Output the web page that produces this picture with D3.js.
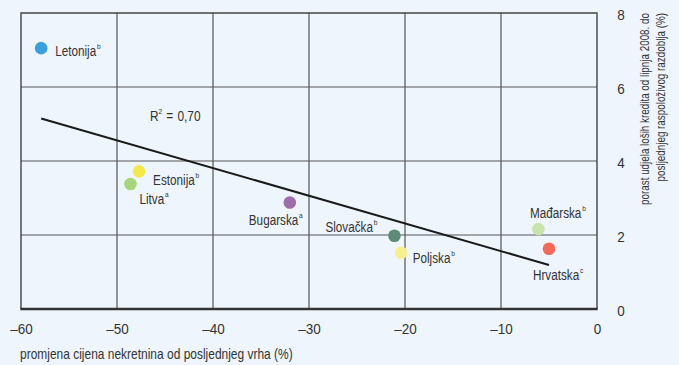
<!DOCTYPE html>
<html><head><meta charset="utf-8">
<script src="https://cdn.jsdelivr.net/npm/d3@7"></script>
<style>
html,body{margin:0;padding:0;background:#eef5fc;}
svg{display:block;font-family:"Liberation Sans",Arial,sans-serif;}
</style></head>
<body>
<svg id="chart" width="679" height="365"></svg>
<script>
// ---- data ----
const countries = ["Letonija","Estonija","Litva","Bugarska","Slovačka","Poljska","Mađarska","Hrvatska"];
const notes     = ["b","b","a","a","b","b","b","c"];
const priceChange = [-57.9,-47.7,-48.6,-32.0,-21.1,-20.4,-6.1,-5.0];
const nplIncrease = [7.05,3.72,3.38,2.88,1.98,1.52,2.16,1.63];
const colors = ["#3aa0dc","#f4e84a","#a6d57c","#9c6eae","#5f8a77","#f6f08e","#c9e3ac","#f3695a"];
const trendX = [-57.9,-5.0];
const trendY = [5.15,1.19];
const xTicks = [-60,-50,-40,-30,-20,-10,0];
const yTicks = [0,2,4,6,8];
const xTitle = "promjena cijena nekretnina od posljednjeg vrha (%)";
const yTitle = ["porast udjela loših kredita od lipnja 2008. do","posljednjeg raspoloživog razdoblja (%)"];

// ---- layout ----
const SX = 0.82; // horizontal condensing of the font
const labelOffsets = [[14,7.5],[14,13.5],[9,20],[-41,23],[-69,-4],[11.5,10.5],[-8.5,-11],[-16,31.5]];
const svg = d3.select("#chart");
const x = d3.scaleLinear().domain([-60,0]).range([21,597]);
const y = d3.scaleLinear().domain([0,8]).range([309,13]);
const ink = "#444";
const txt = "#333";

// grid
const g = svg.append("g");
g.selectAll(".vg").data(xTicks.slice(1,-1)).enter().append("line")
  .attr("x1",d=>x(d)).attr("x2",d=>x(d)).attr("y1",y(8)).attr("y2",y(0))
  .attr("stroke","#555").attr("stroke-width",1.2);
g.selectAll(".hg").data(yTicks.slice(1,-1)).enter().append("line")
  .attr("x1",x(-60)).attr("x2",x(0)).attr("y1",d=>y(d)).attr("y2",d=>y(d))
  .attr("stroke","#555").attr("stroke-width",1.2);
// frame
g.append("path").attr("d",`M${x(-60)},${y(0)}V${y(8)}H${x(0)}V${y(0)}`)
  .attr("fill","none").attr("stroke",ink).attr("stroke-width",1.4);
g.append("line").attr("x1",x(-60)-0.7).attr("x2",x(0)+0.7).attr("y1",y(0)).attr("y2",y(0))
  .attr("stroke","#333").attr("stroke-width",2.4);

// x axis
const xAxis = d3.axisBottom(x).tickValues(xTicks).tickSize(0).tickPadding(0)
  .tickFormat(d=> d<0 ? "–"+Math.abs(d) : String(d));
const xa = svg.append("g").attr("transform",`translate(0,${y(0)})`).call(xAxis);
xa.select(".domain").remove();
xa.selectAll("text").attr("y",null).attr("dy",null)
  .attr("transform",`translate(0,24.5) scale(0.9,1)`)
  .attr("font-size",15).attr("fill",txt).attr("font-family","inherit");

// y axis (right)
const yAxis = d3.axisRight(y).tickValues(yTicks).tickSize(0).tickPadding(0);
const ya = svg.append("g").attr("transform",`translate(${x(0)},0)`).call(yAxis);
ya.select(".domain").remove();
ya.selectAll("text").attr("x",null).attr("dy","0.36em")
  .attr("transform",`translate(24,1) scale(0.9,1)`)
  .attr("font-size",15).attr("fill",txt)
  .attr("text-anchor","middle").attr("font-family","inherit");

// titles
svg.append("text").attr("transform",`translate(20,359) scale(${SX},1)`)
  .attr("font-size",14.6).attr("fill",txt).text(xTitle);
yTitle.forEach((t,i)=>{
  svg.append("text").attr("transform",`translate(${649+i*16},13) rotate(-90) scale(${SX},1)`)
    .attr("text-anchor","end").attr("font-size",12).attr("fill",txt).text(t);
});

// trend line
svg.append("line").attr("x1",x(trendX[0])).attr("y1",y(trendY[0]))
  .attr("x2",x(trendX[1])).attr("y2",y(trendY[1]))
  .attr("stroke","#1a1a1a").attr("stroke-width",2);

// R^2
const r2 = svg.append("text").attr("transform",`translate(150,121) scale(${SX},1)`)
  .attr("font-size",14.5).attr("fill",txt);
r2.append("tspan").text("R");
r2.append("tspan").attr("font-size",8).attr("dy",-7).text("2");
r2.append("tspan").attr("dy",7).attr("dx",5).text("=");
r2.append("tspan").attr("dx",5).text("0,70");

// points
svg.selectAll(".pt").data(countries).enter().append("circle")
  .attr("cx",(d,i)=>x(priceChange[i])).attr("cy",(d,i)=>y(nplIncrease[i]))
  .attr("r",6.3).attr("fill",(d,i)=>colors[i]);

// labels
countries.forEach((c,i)=>{
  const t = svg.append("text")
    .attr("transform",`translate(${x(priceChange[i])+labelOffsets[i][0]},${y(nplIncrease[i])+labelOffsets[i][1]}) scale(${SX},1)`)
    .attr("font-size",14.3).attr("fill",txt);
  t.append("tspan").text(c);
  t.append("tspan").attr("font-size",8).attr("dx",1).attr("dy",-7).text(notes[i]);
});
</script>
</body></html>
